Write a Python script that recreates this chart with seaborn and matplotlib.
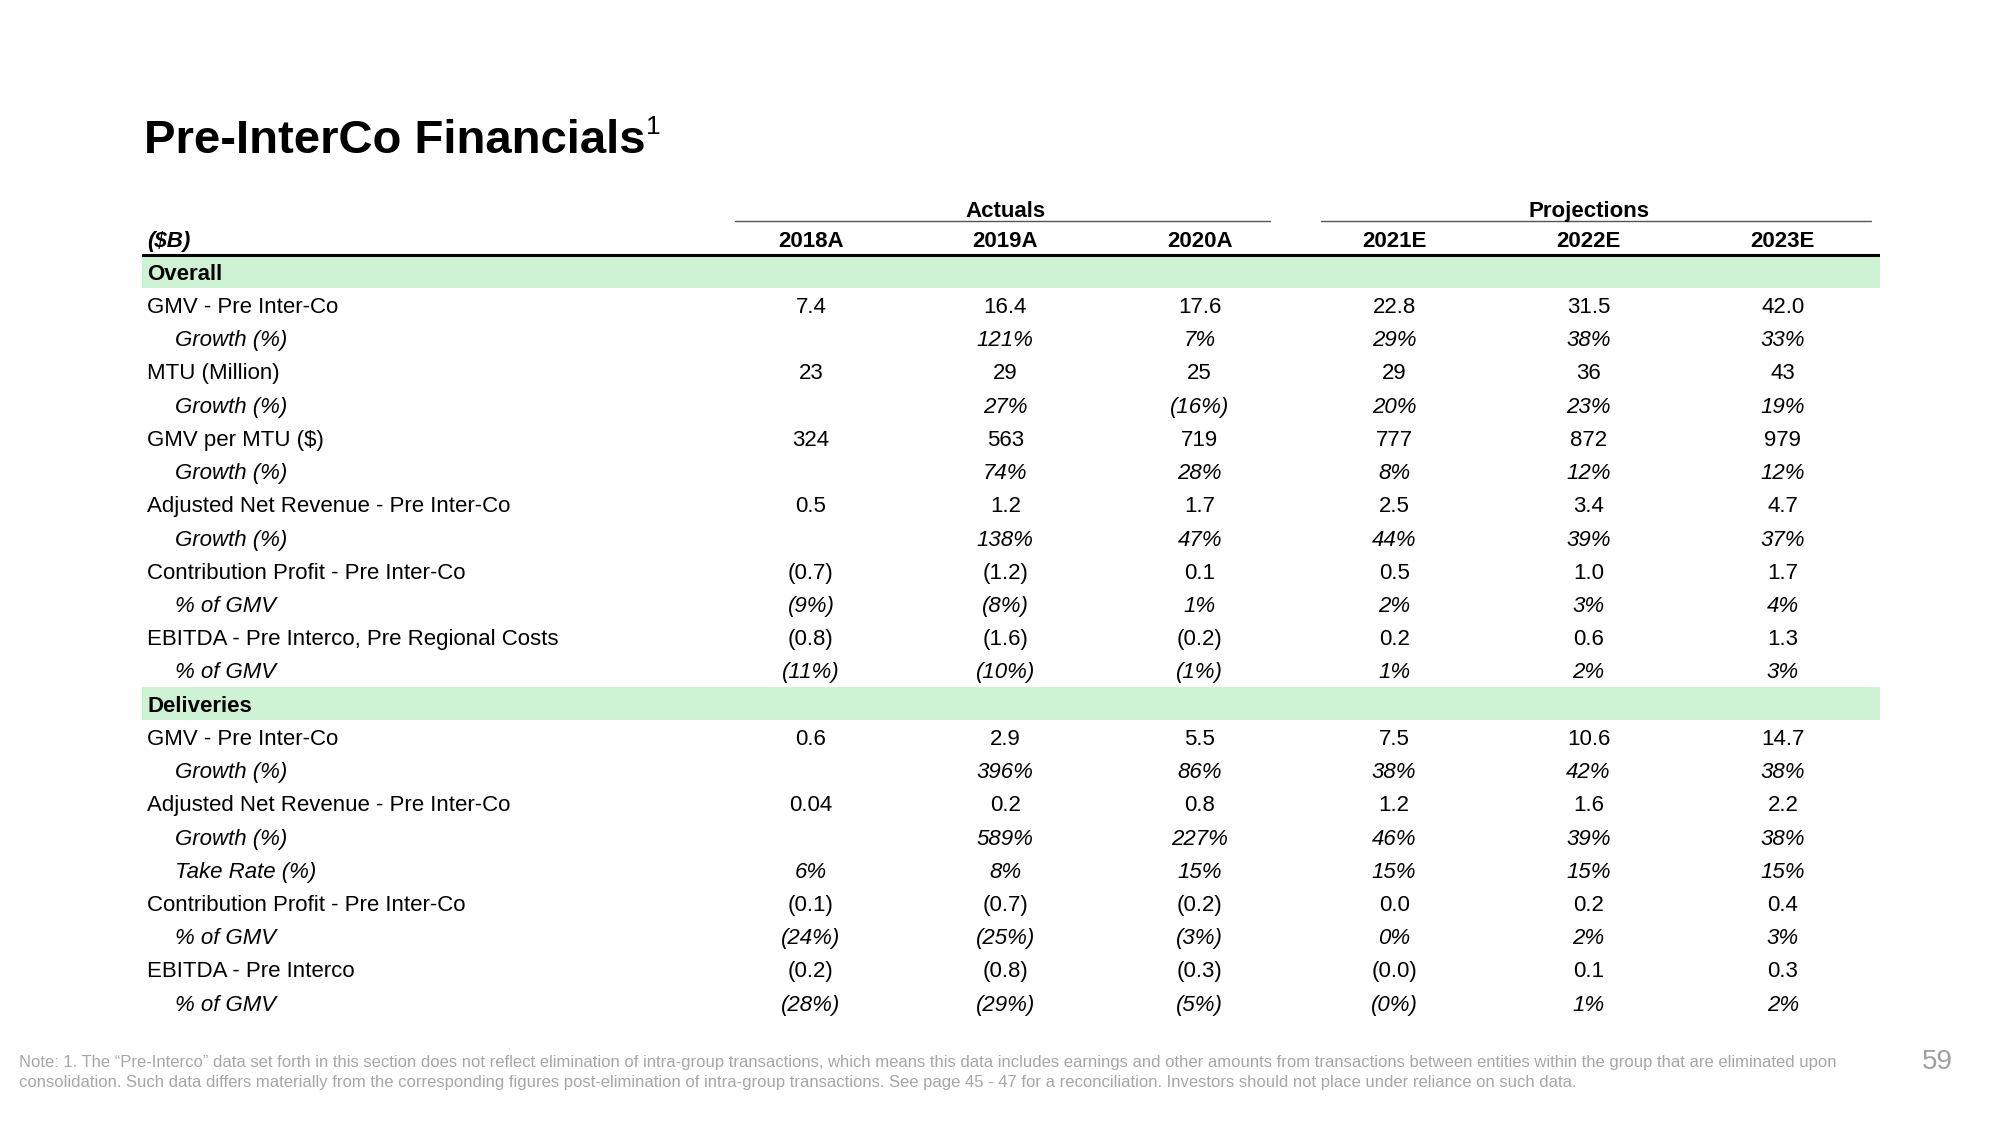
"""Pre-InterCo financials slide: summary table rebuilt with seaborn + matplotlib text."""
import matplotlib
matplotlib.use("Agg")
import matplotlib.pyplot as plt
from matplotlib.colors import ListedColormap
import pandas as pd
import seaborn as sns

# ---- data -------------------------------------------------------------------
YEARS = ["2018A", "2019A", "2020A", "2021E", "2022E", "2023E"]
GROUPS = {"Actuals": [0, 1, 2], "Projections": [3, 4, 5]}
UNIT = "($B)"
SUB_LABELS = {"Growth (%)", "% of GMV", "Take Rate (%)"}

overall_labels = [
    "GMV - Pre Inter-Co", "Growth (%)",
    "MTU (Million)", "Growth (%)",
    "GMV per MTU ($)", "Growth (%)",
    "Adjusted Net Revenue - Pre Inter-Co", "Growth (%)",
    "Contribution Profit - Pre Inter-Co", "% of GMV",
    "EBITDA - Pre Interco, Pre Regional Costs", "% of GMV",
]
overall_values = [
    ["7.4", "16.4", "17.6", "22.8", "31.5", "42.0"],
    ["", "121%", "7%", "29%", "38%", "33%"],
    ["23", "29", "25", "29", "36", "43"],
    ["", "27%", "(16%)", "20%", "23%", "19%"],
    ["324", "563", "719", "777", "872", "979"],
    ["", "74%", "28%", "8%", "12%", "12%"],
    ["0.5", "1.2", "1.7", "2.5", "3.4", "4.7"],
    ["", "138%", "47%", "44%", "39%", "37%"],
    ["(0.7)", "(1.2)", "0.1", "0.5", "1.0", "1.7"],
    ["(9%)", "(8%)", "1%", "2%", "3%", "4%"],
    ["(0.8)", "(1.6)", "(0.2)", "0.2", "0.6", "1.3"],
    ["(11%)", "(10%)", "(1%)", "1%", "2%", "3%"],
]

deliveries_labels = [
    "GMV - Pre Inter-Co", "Growth (%)",
    "Adjusted Net Revenue - Pre Inter-Co", "Growth (%)", "Take Rate (%)",
    "Contribution Profit - Pre Inter-Co", "% of GMV",
    "EBITDA - Pre Interco", "% of GMV",
]
deliveries_values = [
    ["0.6", "2.9", "5.5", "7.5", "10.6", "14.7"],
    ["", "396%", "86%", "38%", "42%", "38%"],
    ["0.04", "0.2", "0.8", "1.2", "1.6", "2.2"],
    ["", "589%", "227%", "46%", "39%", "38%"],
    ["6%", "8%", "15%", "15%", "15%", "15%"],
    ["(0.1)", "(0.7)", "(0.2)", "0.0", "0.2", "0.4"],
    ["(24%)", "(25%)", "(3%)", "0%", "2%", "3%"],
    ["(0.2)", "(0.8)", "(0.3)", "(0.0)", "0.1", "0.3"],
    ["(28%)", "(29%)", "(5%)", "(0%)", "1%", "2%"],
]

TITLE = "Pre-InterCo Financials"
NOTE = [
    "Note: 1. The \u201cPre-Interco\u201d data set forth in this section does not reflect elimination of "
    "intra-group transactions, which means this data includes earnings and other amounts from "
    "transactions between entities within the group that are eliminated upon",
    "consolidation. Such data differs materially from the corresponding figures post-elimination of "
    "intra-group transactions. See page 45 - 47 for a reconciliation. Investors should not place "
    "under reliance on such data.",
]
PAGE = "59"

# ---- table frame --------------------------------------------------------------
rows = []
for section, labels, values in [("Overall", overall_labels, overall_values),
                                ("Deliveries", deliveries_labels, deliveries_values)]:
    rows.append({"label": section, "kind": "section", **{y: "" for y in YEARS}})
    for lab, vals in zip(labels, values):
        kind = "sub" if lab in SUB_LABELS else "main"
        rows.append({"label": lab, "kind": kind, **dict(zip(YEARS, vals))})
table = pd.DataFrame(rows)
n = len(table)

# layout (axes fraction for x, row units for y)
LABEL_X, INDENT_X = 0.003, 0.019
COL_X = [0.3849 + 0.11185 * i for i in range(len(YEARS))]
GROUP_SPAN = {"Actuals": (0.341, 0.649), "Projections": (0.6786, 0.9949)}
BAND = "#cdf2d4"
FS = 16

sns.set_theme(style="white")
plt.rcParams["font.family"] = ["Liberation Sans", "DejaVu Sans"]

fig = plt.figure(figsize=(20, 11.25), dpi=100)
ax = fig.add_axes([0.071, 0.0940, 0.869, 0.7383])

band = (table["kind"] == "section").astype(int).to_numpy()[:, None]
sns.heatmap(band, cmap=ListedColormap(["white", BAND]), vmin=0, vmax=1, cbar=False,
            xticklabels=False, yticklabels=False, linewidths=0, ax=ax)
ax.set_xlim(0, 1)
ax.set_ylim(n, -2)
ax.tick_params(length=0)
for s in ax.spines.values():
    s.set_visible(False)

# header
ax.axhline(0, color="black", lw=2.2)
for name, cols in GROUPS.items():
    xc = sum(COL_X[c] for c in cols) / len(cols)
    ax.text(xc, -1.39, name, ha="center", va="center_baseline", fontsize=FS,
            fontweight="bold", color="black")
    x0, x1 = GROUP_SPAN[name]
    ax.plot([x0, x1], [-1.03, -1.03], color="#555555", lw=1)
ax.text(LABEL_X, -0.48, UNIT, ha="left", va="center_baseline", fontsize=FS,
        fontweight="bold", style="italic", color="black")
for i, year in enumerate(YEARS):
    ax.text(COL_X[i], -0.48, year, ha="center", va="center_baseline", fontsize=FS,
            fontweight="bold", color="black")

# body
for r, row in table.iterrows():
    y = r + 0.5
    if row["kind"] == "section":
        ax.text(LABEL_X, y, row["label"], ha="left", va="center_baseline", fontsize=FS,
                fontweight="bold", color="black")
        continue
    italic = row["kind"] == "sub"
    st = "italic" if italic else "normal"
    ax.text(INDENT_X if italic else LABEL_X, y, row["label"], ha="left",
            va="center_baseline", fontsize=FS, style=st, color="black")
    for i, year in enumerate(YEARS):
        ax.text(COL_X[i], y, row[year], ha="center", va="center_baseline", fontsize=FS,
                style=st, color="black")

# ---- title, note, page number -------------------------------------------------
title = fig.text(0.072, 0.864, TITLE, fontsize=34, fontweight="bold", va="baseline",
                 color="black")
fig.canvas.draw()
bb = title.get_window_extent()
fig.text(bb.x1 / fig.bbox.width, 0.881, "1", fontsize=19, va="baseline",
         color="black")

for k, line in enumerate(NOTE):
    fig.text(0.0095, 1 - (1062 + 21 * k) / 1125, line, fontsize=12, color="#a6a6a6",
             va="center", ha="left")
fig.text(0.9685, 1 - 1062 / 1125, PAGE, fontsize=20, color="#a0a0a0", ha="center",
         va="center")

fig.savefig("out.png", dpi=100, facecolor="white")
